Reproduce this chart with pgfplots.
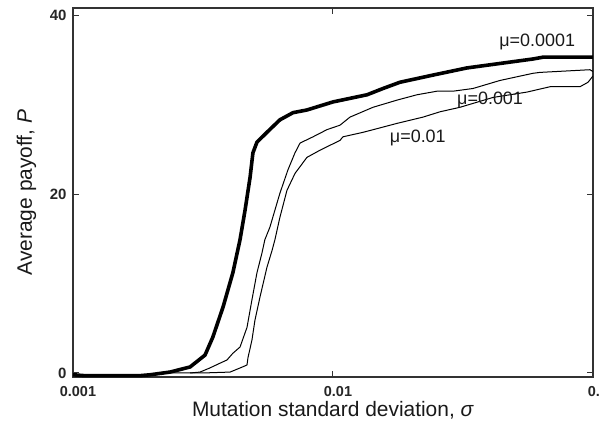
\documentclass[border=0pt]{standalone}
\usepackage{pgfplots}
\pgfplotsset{compat=1.18}
\usepackage{fontspec}
\setmainfont{Liberation Sans}
\begin{document}
\begin{tikzpicture}
\useasboundingbox (-73bp,-50bp) rectangle (527bp,377bp);
\begin{axis}[
 at={(0,0)}, anchor=south west,
 scale only axis, width=520bp, height=369bp,
 xmode=log, xmin=0.001, xmax=0.1, ymin=-0.45, ymax=40.8,
 xtick={0.001,0.01,0.1}, xticklabels={0.001,0.01,0.1},
 ytick={0,20,40}, yticklabels={0,20,40},
 xminorticks=false, yminorticks=false,
 tick align=inside, major tick length=6bp,
 tick style={line width=1bp, black!80},
 ticklabel style={font=\fontsize{15}{15}\selectfont\bfseries, text=black!85},
 xticklabel style={inner sep=0.5bp, xshift=5bp, yshift=-9bp, font=\fontsize{14.5}{14.5}\selectfont\bfseries},
 yticklabel style={xshift=-3bp},
 axis line style={line width=1.2bp, black!80},
 xlabel={Mutation standard deviation, \textit{σ}},
 ylabel={Average payoff, \textit{P}},
 xlabel style={inner sep=0pt, at={([yshift=-39bp]axis description cs:0.5,0)}, anchor=base},
 ylabel style={at={([xshift=-41bp]axis description cs:0,0.5)}, anchor=base},
 label style={font=\fontsize{21}{21}\selectfont, text=black!90},
]
% mu = 0.0001 (thick)
\addplot[black, line width=3.6bp] coordinates {
(0.001,-0.2) (0.00111,-0.3) (0.00181,-0.3) (0.00198,-0.2) (0.00236,0.1)
(0.00282,0.67) (0.00322,2.0) (0.00345,4.0) (0.00378,7.4) (0.00412,11.2)
(0.00439,14.9) (0.00459,18.2) (0.00480,21.9) (0.00492,24.6) (0.00510,25.8)
(0.00557,26.9) (0.00625,28.3) (0.00702,29.1) (0.00794,29.4) (0.01,30.3)
(0.01352,31.1) (0.01557,31.8) (0.01810,32.5) (0.02424,33.3) (0.03275,34.1)
(0.04389,34.6) (0.05878,35.1) (0.06422,35.3) (0.1,35.3)
};
% mu = 0.001
\addplot[black, line width=1bp] coordinates {
(0.00236,0) (0.00282,0) (0.00308,0.1) (0.00336,0.56) (0.00368,1.1) (0.00391,1.45)
(0.00412,2.2) (0.00439,2.9) (0.00467,5.1) (0.00488,8.2) (0.00510,11.2)
(0.00533,13.4) (0.00547,14.9) (0.00572,16.3) (0.00625,20.1) (0.00671,22.7)
(0.00714,24.6) (0.00747,25.7) (0.00838,26.4) (0.00948,27.2) (0.01064,27.7)
(0.01162,28.6) (0.01425,29.7) (0.01762,30.5) (0.02104,31.1) (0.02512,31.5)
(0.02895,31.5) (0.03454,31.8) (0.04389,32.7) (0.05878,33.5) (0.06252,33.6)
(0.09731,33.9) (0.1,33.7)
};
% mu = 0.01
\addplot[black, line width=1bp] coordinates {
(0.00282,0) (0.00316,0) (0.00402,0.1) (0.00451,0.7) (0.00467,0.9) (0.00471,1.7)
(0.00488,3.7) (0.00501,5.9) (0.00524,8.5) (0.00557,11.8) (0.00583,13.7)
(0.00598,14.9) (0.00625,17.4) (0.00665,20.4) (0.00714,22.3) (0.00794,24.1)
(0.00891,24.9) (0.01064,26.0) (0.01092,26.4) (0.01304,26.9) (0.01517,27.4)
(0.01762,27.9) (0.02218,28.6) (0.02582,29.2) (0.03079,29.7) (0.04124,30.8)
(0.05572,31.4) (0.06839,32.0) (0.08913,32.0) (0.09571,32.5) (0.1,33.2)
};
\node[font=\fontsize{18}{18}\selectfont, text=black!90] at (axis cs:0.061,37.0) {μ=0.0001};
\node[font=\fontsize{18}{18}\selectfont, text=black!90] at (axis cs:0.0402,30.5) {μ=0.001};
\node[font=\fontsize{18}{18}\selectfont, text=black!90] at (axis cs:0.0212,26.3) {μ=0.01};
\end{axis}
\end{tikzpicture}
\end{document}
